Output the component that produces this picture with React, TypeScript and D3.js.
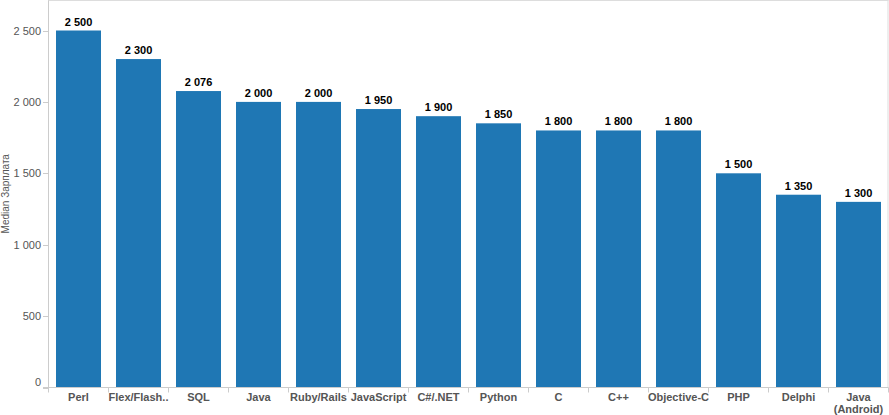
import React from "react";
import * as d3 from "d3";

const categories = ["Perl", "Flex/Flash..", "SQL", "Java", "Ruby/Rails", "JavaScript", "C#/.NET", "Python", "C", "C++", "Objective-C", "PHP", "Delphi", "Java\n(Android)"];
const salaries = [2500, 2300, 2076, 2000, 2000, 1950, 1900, 1850, 1800, 1800, 1800, 1500, 1350, 1300];
const yTicks = [0, 500, 1000, 1500, 2000, 2500];
const yTitle = "Median Зарплата";

const W = 889, H = 415;
const left = 48.5, right = 888.5, bottom = 387.5;

export default function App() {
  const x = d3.scaleBand<string>().domain(categories).range([left, right]).paddingInner(0.25).paddingOuter(0.125);
  const y = d3.scaleLinear().domain([0, 2500]).range([bottom, 30.5]);
  const fmt = (v: number) => d3.format(",")(v).replace(/,/g, " ");
  const step = x.step();
  const font = "'Liberation Sans', Arial, sans-serif";
  return (
    <svg width={W} height={H} style={{ position: "absolute", left: 0, top: 0, fontFamily: font }}>
      <rect x={0} y={0} width={W} height={H} fill="#fff" />
      {categories.map((c, i) => (
        <g key={c}>
          <rect x={x(c)} y={y(salaries[i])} width={x.bandwidth()} height={y(0) - y(salaries[i])} fill="#1f77b4" />
          <text x={(x(c) as number) + x.bandwidth() / 2} y={y(salaries[i]) - 5} textAnchor="middle" fontSize={11} fontWeight="bold" fill="#000">{fmt(salaries[i])}</text>
          {c.split("\n").map((line, j) => (
            <text key={j} x={(x(c) as number) + x.bandwidth() / 2} y={401 + j * 12} textAnchor="middle" fontSize={11} fontWeight="bold" fill="#555">{line}</text>
          ))}
        </g>
      ))}
      {d3.range(categories.length + 1).map((i) => (
        <line key={i} x1={left + i * step} x2={left + i * step} y1={bottom} y2={bottom + 5} stroke="#ccc" />
      ))}
      <line x1={left} x2={left} y1={0} y2={bottom} stroke="#ccc" />
      <line x1={right - 0.5} x2={right - 0.5} y1={0} y2={bottom} stroke="#ddd" />
      <line x1={left} x2={right} y1={0.5} y2={0.5} stroke="#ddd" />
      <line x1={43} x2={right} y1={bottom} y2={bottom} stroke="#ccc" />
      {yTicks.map((t) => (
        <g key={t}>
          <line x1={43} x2={left} y1={Math.round(y(t)) + 0.5} y2={Math.round(y(t)) + 0.5} stroke="#ccc" />
          <text x={41} y={y(t) + 4 - (t === 0 ? 6 : 0)} textAnchor="end" fontSize={11} fill="#555">{fmt(t)}</text>
        </g>
      ))}
      <text transform={`translate(9,${bottom / 2}) rotate(-90)`} textAnchor="middle" fontSize={10} fill="#555">{yTitle}</text>
    </svg>
  );
}
